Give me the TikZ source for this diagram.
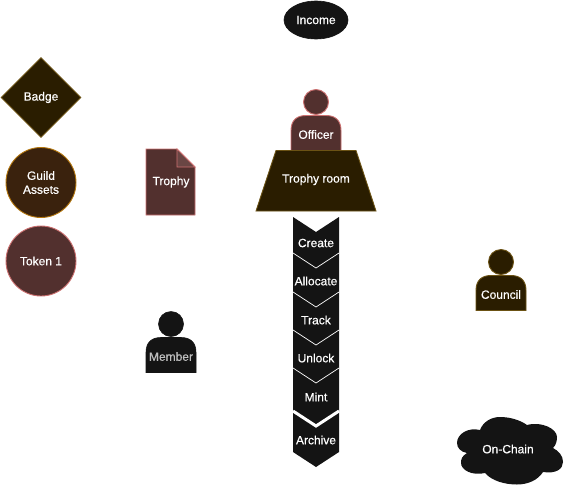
\documentclass[tikz,border=0pt]{standalone}
\usepackage{fontspec}
\setmainfont[FakeBold=0.4]{Liberation Sans}
\usetikzlibrary{shapes.geometric}
\definecolor{inkblack}{HTML}{141414}
\definecolor{umberfill}{HTML}{2A1D00}
\definecolor{umberline}{HTML}{6B5214}
\definecolor{brownfill}{HTML}{3A220D}
\definecolor{brownline}{HTML}{B4770F}
\definecolor{wineline}{HTML}{CC7070}
\definecolor{winefill}{HTML}{52302E}
\definecolor{winefold}{HTML}{6A4644}
\tikzset{
  lbl/.style={text=white,font=\fontsize{12}{14}\selectfont,align=center,inner sep=0pt},
  umber/.style={fill=umberfill,draw=umberline,line width=0.9pt},
  brown/.style={fill=brownfill,draw=brownline,line width=0.9pt},
  wine/.style={fill=winefill,draw=wineline,line width=0.9pt},
  ink/.style={fill=inkblack,draw=inkblack,line width=0.6pt},
  token/.style={circle,lbl,minimum size=70pt}
}
\begin{document}
\begin{tikzpicture}[x=1pt,y=-1pt]
  \useasboundingbox (0,0) rectangle (569,490);
  % left column
  \node[diamond,lbl,umber,minimum width=80pt,minimum height=80pt] (badge) at (41,97.5) {Badge};
  \node[token,brown] (assets) at (41,182.5) {Guild\\Assets};
  \node[token,wine] (token) at (41,261) {Token 1};
  \node[ellipse,lbl,ink,minimum width=64pt,minimum height=38pt] (income) at (316,20) {Income};
  % trophy page
  \draw[wine] (146,149) -- (177,149) -- (195,167) -- (195,215) -- (146,215) -- cycle;
  \draw[wine,fill=winefold] (177,149) -- (195,167) -- (177,167) -- cycle;
  \node[lbl] (trophy) at (171,182) {Trophy};
  % people
  \foreach \px/\py/\sty/\nm/\txt/\col in {316/102/wine/officer/Officer/white,
      501/262/umber/council/Council/white,171/324/ink/member/Member/black!25} {
    \begin{scope}[shift={(\px,\py)}]
      \draw[\sty] (0,0) circle (12.5);
      \draw[\sty] (-25,48.5) -- (-25,28.5) .. controls (-25,18) and (-19,13.5) .. (-10,13.5)
        -- (10,13.5) .. controls (19,13.5) and (25,18) .. (25,28.5) -- (25,48.5) -- cycle;
      \node[lbl,text=\col] (\nm) at (0,32.5) {\txt};
    \end{scope}
  }
  % desk
  \draw[umber] (276,150.5) -- (356,150.5) -- (376,211) -- (256,211) -- cycle;
  \node[lbl] (room) at (316,179.5) {Trophy room};
  % arrow steps
  \fill[inkblack] (293,217) -- (316,232) -- (339,217) -- (339,452) -- (316,467) -- (293,452) -- cycle;
  \foreach \y in {253,292,330,368}
    \draw[white,line width=0.7pt] (293,\y) -- (316,\y+15) -- (339,\y);
  \draw[white,line width=3pt] (293,411) -- (316,426) -- (339,411);
  \foreach \nm/\txt/\y in {create/Create/243,allocate/Allocate/281,track/Track/320,
      unlock/Unlock/358,mint/Mint/397,archive/Archive/440}
    \node[lbl] (\nm) at (316,\y) {\txt};
  % cloud
  \fill[inkblack] (480,430) .. controls (468,427) and (457,434) .. (457,443)
    .. controls (457,448) and (461,452) .. (467,453)
    .. controls (462,456) and (461,459) .. (461,463)
    .. controls (461,470) and (472,476) .. (485,473)
    .. controls (492,481) and (505,484.5) .. (517,484.5)
    .. controls (528,484.5) and (538,480) .. (543,472)
    .. controls (556,474) and (563,469) .. (563,462)
    .. controls (563,456) and (559,451) .. (553,448)
    .. controls (556,445) and (557,441) .. (557,437)
    .. controls (557,429) and (542,421) .. (527,425)
    .. controls (520,420) and (510,417) .. (500,417)
    .. controls (491,417) and (483,422) .. (480,430) -- cycle;
  \node[lbl] (chain) at (508,449) {On-Chain};
\end{tikzpicture}
\end{document}
